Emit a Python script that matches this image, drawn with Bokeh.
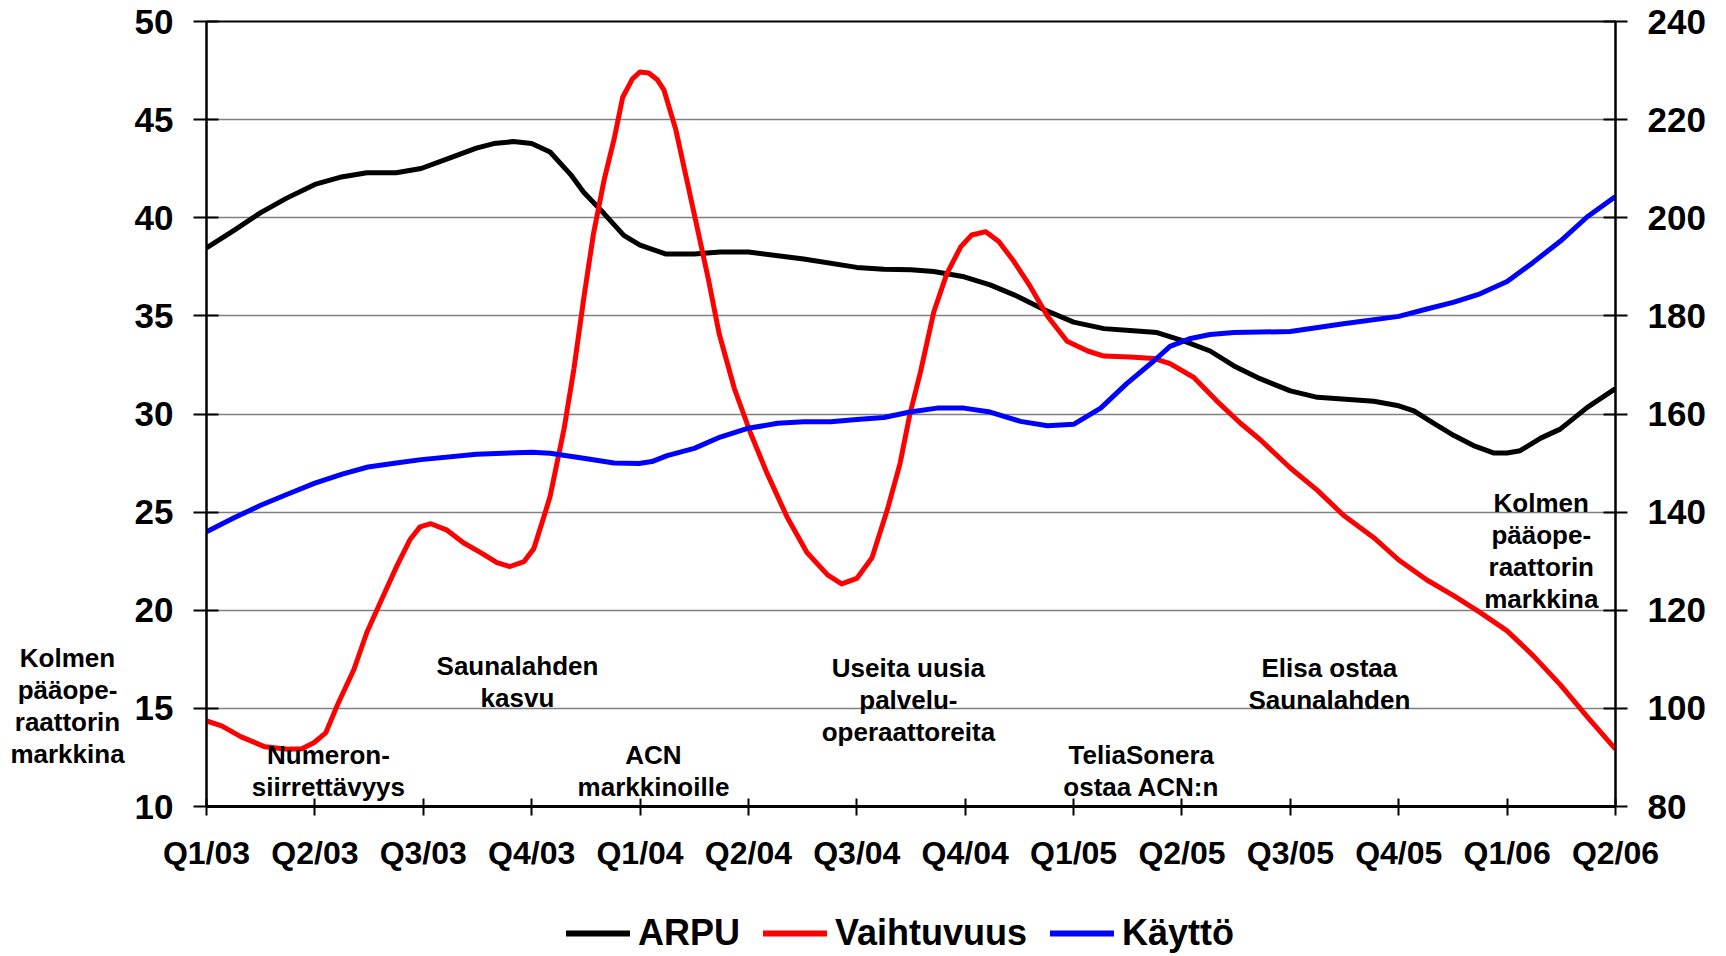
from bokeh.plotting import figure
from bokeh.models import (Range1d, LinearAxis, FixedTicker, Legend, LegendItem, Label)
from bokeh.layouts import row, column
from bokeh.embed import file_html
from bokeh.resources import INLINE

# ---------------- data ----------------
quarter_labels = ["Q1/03", "Q2/03", "Q3/03", "Q4/03", "Q1/04", "Q2/04", "Q3/04",
                  "Q4/04", "Q1/05", "Q2/05", "Q3/05", "Q4/05", "Q1/06", "Q2/06"]

# positions in quarters since Q1/03
arpu_x = [0.00, 0.25, 0.50, 0.74, 1.00, 1.23, 1.48, 1.75, 1.98, 2.21, 2.49, 2.65, 2.83,
          3.00, 3.17, 3.36, 3.48, 3.67, 3.85, 4.00, 4.24, 4.50, 4.74, 5.00, 5.51, 6.00,
          6.25, 6.50, 6.71, 6.99, 7.23, 7.48, 7.73, 8.00, 8.28, 8.52, 8.77, 9.02, 9.26,
          9.48, 9.72, 10.00, 10.25, 10.77, 11.00, 11.14, 11.32, 11.51, 11.69, 11.88,
          12.00, 12.12, 12.31, 12.49, 12.74, 13.00]
arpu_y = [38.46, 39.34, 40.26, 41.00, 41.70, 42.06, 42.29, 42.29, 42.51, 42.97, 43.55,
          43.78, 43.88, 43.78, 43.35, 42.20, 41.30, 40.20, 39.10, 38.60, 38.15, 38.15,
          38.25, 38.25, 37.90, 37.47, 37.37, 37.35, 37.26, 36.99, 36.58, 36.00, 35.31,
          34.68, 34.35, 34.25, 34.15, 33.71, 33.21, 32.45, 31.80, 31.18, 30.85, 30.65,
          30.42, 30.16, 29.53, 28.90, 28.39, 28.01, 28.01, 28.13, 28.77, 29.23, 30.34,
          31.30]

churn_x = [0.00, 0.14, 0.32, 0.54, 0.75, 0.88, 0.99, 1.10, 1.21, 1.36, 1.48, 1.62, 1.76,
           1.88, 1.97, 2.07, 2.22, 2.37, 2.53, 2.68, 2.80, 2.93, 3.02, 3.11, 3.17, 3.30,
           3.39, 3.48, 3.57, 3.67, 3.76, 3.84, 3.93, 4.00, 4.08, 4.16, 4.22, 4.33, 4.43,
           4.54, 4.63, 4.73, 4.87, 5.02, 5.17, 5.36, 5.54, 5.73, 5.86, 6.00, 6.14, 6.28,
           6.40, 6.49, 6.59, 6.71, 6.83, 6.96, 7.06, 7.19, 7.31, 7.45, 7.60, 7.76, 7.94,
           8.13, 8.28, 8.52, 8.74, 8.89, 9.11, 9.32, 9.54, 9.72, 10.00, 10.25, 10.49,
           10.77, 11.00, 11.26, 11.51, 11.75, 12.00, 12.24, 12.49, 12.74, 13.00]
churn_y = [14.36, 14.11, 13.55, 13.04, 12.92, 12.94, 13.25, 13.75, 15.20, 16.98, 18.88,
           20.60, 22.30, 23.62, 24.25, 24.41, 24.08, 23.44, 22.94, 22.43, 22.23, 22.48,
           23.14, 24.71, 25.80, 29.27, 32.30, 35.87, 39.17, 41.96, 43.99, 46.14, 47.08,
           47.43, 47.38, 47.03, 46.52, 44.49, 41.96, 39.17, 36.88, 34.09, 31.30, 29.02,
           27.00, 24.71, 22.94, 21.80, 21.34, 21.62, 22.68, 25.09, 27.50, 30.00, 32.20,
           35.20, 37.14, 38.53, 39.12, 39.29, 38.79, 37.77, 36.50, 34.98, 33.71, 33.21,
           32.95, 32.90, 32.83, 32.57, 31.86, 30.67, 29.53, 28.70, 27.25, 26.11, 24.84,
           23.70, 22.56, 21.54, 20.73, 19.89, 18.95, 17.69, 16.21, 14.57, 12.92]

usage_x = [0.00, 0.25, 0.50, 0.74, 1.00, 1.26, 1.49, 1.75, 1.98, 2.49, 3.00, 3.17, 3.48,
           3.76, 3.99, 4.11, 4.25, 4.50, 4.74, 5.00, 5.27, 5.51, 5.76, 6.00, 6.25, 6.49,
           6.74, 6.99, 7.23, 7.51, 7.76, 8.00, 8.25, 8.49, 8.74, 8.89, 9.08, 9.26, 9.48,
           9.72, 10.00, 10.49, 11.00, 11.26, 11.51, 11.75, 12.00, 12.24, 12.49, 12.74,
           13.00]
usage_y = [136.0, 138.8, 141.4, 143.6, 145.9, 147.8, 149.2, 150.0, 150.7, 151.8, 152.2,
           152.0, 151.0, 150.0, 149.9, 150.3, 151.5, 153.0, 155.3, 157.1, 158.1, 158.4,
           158.4, 158.9, 159.3, 160.4, 161.2, 161.2, 160.4, 158.5, 157.6, 157.9, 161.2,
           166.2, 170.8, 173.8, 175.4, 176.2, 176.6, 176.7, 176.8, 178.4, 179.9, 181.4,
           182.8, 184.5, 187.0, 190.9, 195.2, 200.2, 204.3]

series_names = ["ARPU", "Vaihtuvuus", "Käyttö"]
series_colors = ["black", "#FF0000", "#0000FF"]
left_ticks = [10, 15, 20, 25, 30, 35, 40, 45, 50]
right_ticks = [80, 100, 120, 140, 160, 180, 200, 220, 240]

side_note = ["Kolmen", "pääope-", "raattorin", "markkina"]
annotations = [
    (1.125, ["Numeron-", "siirrettävyys"], 12.60),
    (2.869, ["Saunalahden", "kasvu"], 17.14),
    (4.124, ["ACN", "markkinoille"], 12.60),
    (6.476, ["Useita uusia", "palvelu-", "operaattoreita"], 17.04),
    (8.625, ["TeliaSonera", "ostaa ACN:n"], 12.60),
    (10.36, ["Elisa ostaa", "Saunalahden"], 17.04),
    (12.315, side_note, 25.46),
]

# ---------------- layout constants ----------------
FONT = "Liberation Sans"
LEFT_W = 128          # width of the side-note strip
MAIN_W = 1592
TOP = 21
FRAME_H = 785
BOTTOM = 70
H1 = TOP + FRAME_H + BOTTOM
LEG_H = 78
LINE_STEP = 1.63      # annotation line spacing, left-axis units (~32px)


def add_lines(fig, x0, lines, ytop):
    for i, t in enumerate(lines):
        fig.add_layout(Label(x=x0, y=ytop - i * LINE_STEP, text=t,
                             text_align="center", text_baseline="middle",
                             text_font=FONT, text_font_style="bold",
                             text_font_size="26px", text_color="black"))


# ---------------- side-note strip (left of the axis) ----------------
pl = figure(width=LEFT_W, height=H1, output_backend="svg", toolbar_location=None,
            x_range=Range1d(0, LEFT_W), y_range=Range1d(10, 50),
            x_axis_type=None, y_axis_type=None)
pl.min_border_left = 0
pl.min_border_right = 0
pl.min_border_top = TOP
pl.min_border_bottom = BOTTOM
pl.outline_line_color = None
pl.grid.visible = False
add_lines(pl, 67, side_note, 17.55)

# ---------------- main chart ----------------
p = figure(width=MAIN_W, height=H1, output_backend="svg", toolbar_location=None,
           x_range=Range1d(0, 13), y_range=Range1d(10, 50))
p.min_border_left = 206 - LEFT_W
p.min_border_right = MAIN_W - (206 - LEFT_W) - 1409
p.min_border_top = TOP
p.min_border_bottom = BOTTOM
p.outline_line_color = "black"
p.outline_line_width = 2
p.extra_y_ranges = {"right": Range1d(80, 240)}

p.xgrid.visible = False
p.ygrid.grid_line_color = "#808080"
p.ygrid.grid_line_width = 1.5

xa = p.xaxis[0]
xa.ticker = FixedTicker(ticks=list(range(len(quarter_labels))))
xa.major_label_overrides = {i: lab for i, lab in enumerate(quarter_labels)}
xa.minor_tick_line_color = None
xa.major_tick_in = 8
xa.major_tick_out = 9
xa.major_tick_line_width = 2
xa.axis_line_width = 3
xa.major_label_standoff = 19
xa.major_label_text_font = FONT
xa.major_label_text_font_style = "bold"
xa.major_label_text_font_size = "32px"
xa.major_label_text_color = "black"

ya = p.yaxis[0]
ya.ticker = FixedTicker(ticks=left_ticks)
ya.minor_tick_line_color = None
ya.major_tick_in = 12
ya.major_tick_out = 13
ya.major_tick_line_width = 2
ya.axis_line_width = 2
ya.major_label_standoff = 20
ya.major_label_text_font = FONT
ya.major_label_text_font_style = "bold"
ya.major_label_text_font_size = "35px"
ya.major_label_text_color = "black"

ra = LinearAxis(y_range_name="right", ticker=FixedTicker(ticks=right_ticks))
ra.minor_tick_line_color = None
ra.major_tick_in = 12
ra.major_tick_out = 12
ra.major_tick_line_width = 2
ra.axis_line_width = 2
ra.major_label_standoff = 20
ra.major_label_text_font = FONT
ra.major_label_text_font_style = "bold"
ra.major_label_text_font_size = "35px"
ra.major_label_text_color = "black"
p.add_layout(ra, "right")

p.line(arpu_x, arpu_y, line_color=series_colors[0], line_width=5, line_join="round")
p.line(churn_x, churn_y, line_color=series_colors[1], line_width=5, line_join="round")
p.line(usage_x, usage_y, line_color=series_colors[2], line_width=5, line_join="round",
       y_range_name="right")

for x0, lines, ytop in annotations:
    add_lines(p, x0, lines, ytop)

# ---------------- legend strip ----------------
TOTAL_W = LEFT_W + MAIN_W
pg = figure(width=TOTAL_W, height=LEG_H, output_backend="svg", toolbar_location=None,
            x_range=Range1d(0, 1), y_range=Range1d(0, 1),
            x_axis_type=None, y_axis_type=None)
pg.min_border = 0
pg.outline_line_color = None
pg.grid.visible = False
items = []
for name, col in zip(series_names, series_colors):
    # proxy renderer drawn outside the visible range; only its legend swatch shows
    r = pg.line([-2, -1], [-2, -2], line_color=col, line_width=6, line_cap="round")
    items.append(LegendItem(label=name, renderers=[r]))
legend = Legend(items=items, orientation="horizontal", location=(566, 0),
                label_text_font=FONT, label_text_font_style="bold",
                label_text_font_size="36px", label_text_color="black",
                glyph_width=64, glyph_height=20, label_height=20,
                label_standoff=8, spacing=23, padding=0, margin=0,
                border_line_color=None, background_fill_alpha=0)
pg.add_layout(legend, "center")

layout = column(row(pl, p, spacing=0), pg, spacing=0)
open("out.html", "w").write(file_html(layout, INLINE))
